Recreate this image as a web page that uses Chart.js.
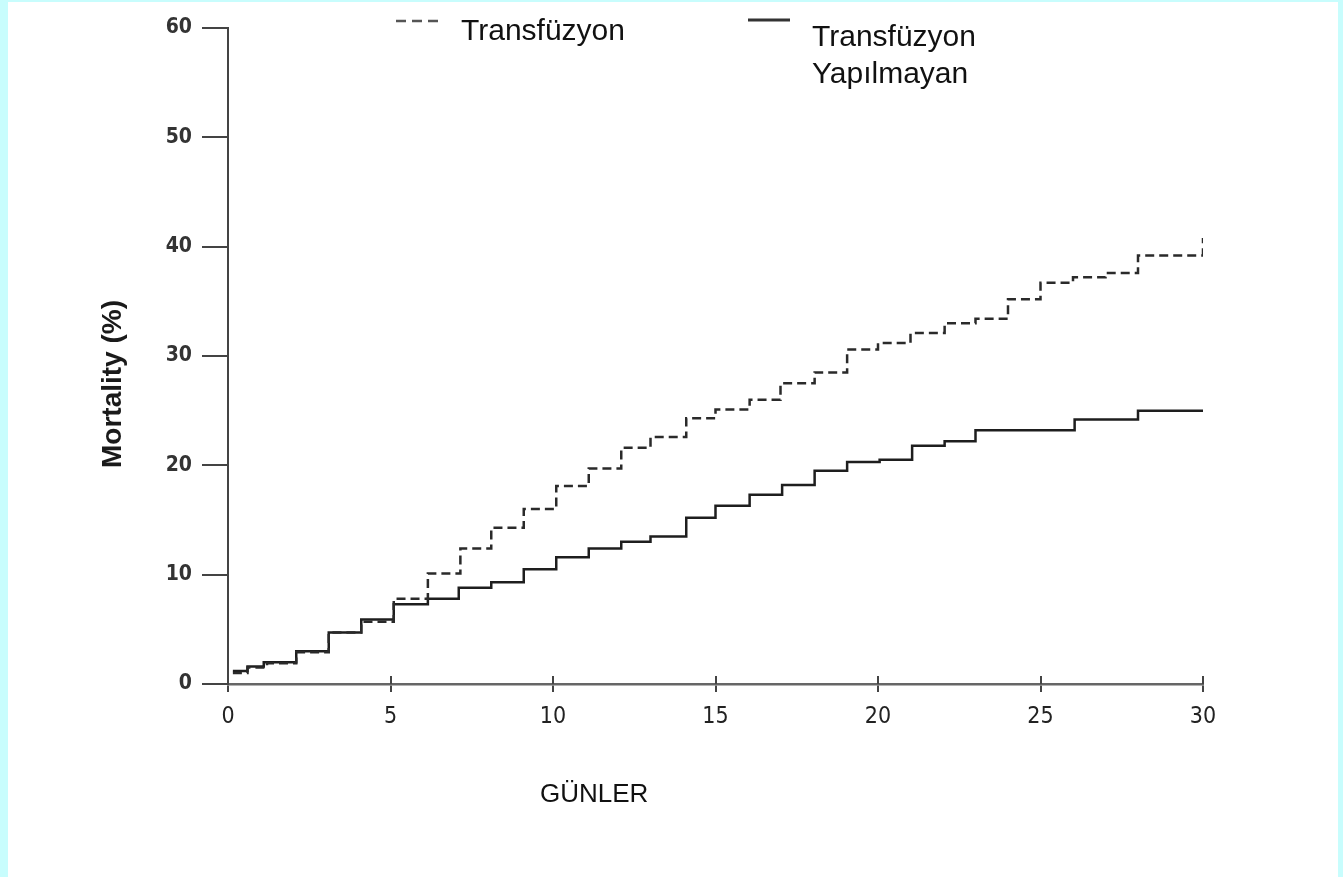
<!DOCTYPE html>
<html>
<head>
<meta charset="utf-8">
<script src="https://cdn.jsdelivr.net/npm/chart.js@4.4.1/dist/chart.umd.min.js"></script>
<style>
  html, body { margin: 0; padding: 0; background: #ffffff; }
  #wrap { width: 1343px; height: 877px; position: relative; }
</style>
</head>
<body>
<div id="wrap"><canvas id="c" width="1343" height="877"></canvas></div>
<script>
// ---- Data ----
const seriesNames = ["Transfüzyon", "Transfüzyon Yapılmayan"];
const xTickValues = [0, 5, 10, 15, 20, 25, 30];
const yTickValues = [0, 10, 20, 30, 40, 50, 60];

// Transfüzyon (dashed) – event day and cumulative mortality (%)
const daysTransfusion = [0.15, 0.6, 1.2, 2.1, 3.1, 4.1, 5.1, 6.15, 7.15, 8.1, 9.1, 10.1, 11.1, 12.1, 13.0, 14.1, 15.0, 16.05, 17.0, 18.05, 19.05, 20.0, 21.0, 22.05, 23.0, 24.0, 25.0, 26.0, 27.0, 28.0, 30.0, 30.0];
const mortTransfusion = [1.0, 1.5, 1.9, 2.9, 4.7, 5.7, 7.8, 10.1, 12.4, 14.3, 16.0, 18.1, 19.7, 21.6, 22.6, 24.3, 25.1, 26.0, 27.5, 28.5, 30.6, 31.2, 32.1, 33.0, 33.4, 35.2, 36.7, 37.2, 37.6, 39.2, 39.2, 40.8];

// Transfüzyon Yapılmayan (solid)
const daysNoTransfusion = [0.15, 0.6, 1.1, 2.1, 3.1, 4.1, 5.1, 6.15, 7.1, 8.1, 9.1, 10.1, 11.1, 12.1, 13.0, 14.1, 15.0, 16.05, 17.05, 18.05, 19.05, 20.05, 21.05, 22.05, 23.0, 26.05, 28.0, 30.0];
const mortNoTransfusion = [1.2, 1.6, 2.0, 3.0, 4.7, 5.9, 7.3, 7.8, 8.8, 9.3, 10.5, 11.6, 12.4, 13.0, 13.5, 15.2, 16.3, 17.3, 18.2, 19.5, 20.3, 20.5, 21.8, 22.2, 23.2, 24.2, 25.0, 25.0];

const toPoints = (xs, ys) => xs.map((x, i) => ({ x: x, y: ys[i] }));

const TICK_FONT = "'DejaVu Sans Condensed', 'Liberation Sans Narrow', 'DejaVu Sans', sans-serif";

const decorPlugin = {
  id: 'decor',
  beforeDraw(chart) {
    const ctx = chart.ctx;
    ctx.save();
    ctx.fillStyle = '#ffffff';
    ctx.fillRect(0, 0, chart.width, chart.height);
    ctx.fillStyle = '#c8fdfd';
    ctx.fillRect(0, 0, 8, chart.height);
    ctx.fillRect(0, 0, chart.width, 2);
    ctx.fillRect(chart.width - 5, 0, 5, chart.height);
    ctx.restore();
  },
  afterDraw(chart) {
    const ctx = chart.ctx;
    const xs = chart.scales.x;
    const area = chart.chartArea;
    ctx.save();
    // inner half of the x-axis tick marks
    ctx.strokeStyle = '#444';
    ctx.lineWidth = 2;
    xTickValues.forEach(v => {
      const px = Math.round(xs.getPixelForValue(v));
      ctx.beginPath();
      ctx.moveTo(px, area.bottom - 8);
      ctx.lineTo(px, area.bottom);
      ctx.stroke();
    });

    // y axis title
    ctx.save();
    ctx.translate(113, 384);
    ctx.rotate(-Math.PI / 2);
    ctx.fillStyle = '#1a1a1a';
    ctx.font = "bold 28px 'Liberation Sans', Arial, sans-serif";
    ctx.textAlign = 'center';
    ctx.textBaseline = 'middle';
    ctx.fillText('Mortality (%)', 0, 0);
    ctx.restore();

    // x axis title
    ctx.fillStyle = '#111';
    ctx.font = "26px 'Liberation Sans', Arial, sans-serif";
    ctx.textAlign = 'left';
    ctx.textBaseline = 'alphabetic';
    ctx.fillText('GÜNLER', 540, 802);

    // legend
    ctx.strokeStyle = '#555';
    ctx.lineWidth = 2.5;
    ctx.setLineDash([10, 6]);
    ctx.beginPath();
    ctx.moveTo(396, 21);
    ctx.lineTo(442, 21);
    ctx.stroke();
    ctx.setLineDash([]);
    ctx.strokeStyle = '#333';
    ctx.lineWidth = 3;
    ctx.beginPath();
    ctx.moveTo(748, 20);
    ctx.lineTo(790, 20);
    ctx.stroke();

    ctx.fillStyle = '#111';
    ctx.font = "30px 'Liberation Sans', Arial, sans-serif";
    ctx.fillText(seriesNames[0], 461, 40);
    const parts = seriesNames[1].split(' ');
    ctx.fillText(parts[0], 812, 46);
    ctx.fillText(parts[1], 812, 83);
    ctx.restore();
  }
};

new Chart(document.getElementById('c'), {
  type: 'line',
  data: {
    datasets: [
      {
        label: seriesNames[0],
        data: toPoints(daysTransfusion, mortTransfusion),
        borderColor: '#2a2a2a',
        borderWidth: 2.5,
        borderDash: [9, 5],
        stepped: 'before',
        pointRadius: 0,
        fill: false
      },
      {
        label: seriesNames[1],
        data: toPoints(daysNoTransfusion, mortNoTransfusion),
        borderColor: '#1e1e1e',
        borderWidth: 2.5,
        stepped: 'before',
        pointRadius: 0,
        fill: false
      }
    ]
  },
  options: {
    responsive: false,
    animation: false,
    events: [],
    layout: { padding: { left: 0, top: 28, right: 140, bottom: 0 } },
    plugins: { legend: { display: false }, tooltip: { enabled: false }, title: { display: false } },
    scales: {
      x: {
        type: 'linear',
        min: 0, max: 30,
        afterFit: s => { s.height = 193; },
        afterBuildTicks: s => { s.ticks = xTickValues.map(v => ({ value: v })); },
        ticks: {
          color: '#222',
          font: { family: TICK_FONT, size: 23 },
          padding: 11,
          maxRotation: 0
        },
        grid: { drawOnChartArea: false, tickLength: 8, color: '#444', lineWidth: 2 },
        border: { color: '#666', width: 2.5 }
      },
      y: {
        type: 'linear',
        min: 0, max: 60,
        afterFit: s => { s.width = 228; },
        afterBuildTicks: s => { s.ticks = yTickValues.map(v => ({ value: v })); },
        ticks: {
          color: '#333',
          font: { family: TICK_FONT, size: 21, weight: '600' },
          padding: 10
        },
        grid: { drawOnChartArea: false, tickLength: 26, color: '#444', lineWidth: 2 },
        border: { color: '#444', width: 2 }
      }
    }
  },
  plugins: [decorPlugin]
});
</script>
</body>
</html>
